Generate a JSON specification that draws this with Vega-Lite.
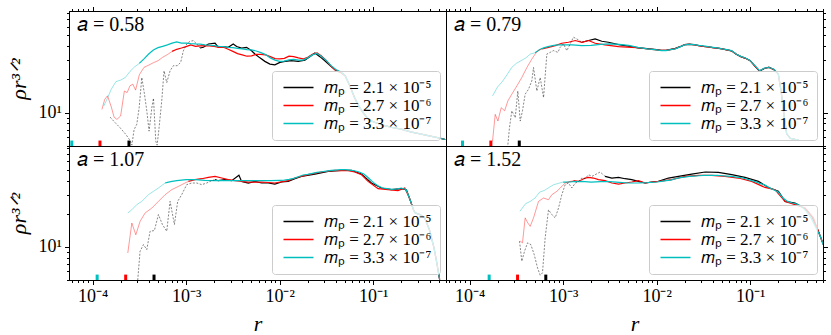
{
  "$schema": "https://vega.github.io/schema/vega-lite/v6.json",
  "padding": {"left": 6, "top": 3, "right": 4, "bottom": 2},
  "columns": 2,
  "spacing": 0,
  "bounds": "flush",
  "align": "each",
  "resolve": {"scale": {"x": "independent", "y": "independent", "color": "independent"}, "legend": {"color": "independent"}},
  "config": {
    "view": {"stroke": "black", "strokeWidth": 1},
    "axis": {"grid": false, "domainColor": "black", "domainWidth": 1, "tickColor": "black", "tickWidth": 1, "labelColor": "black", "labelFont": "Liberation Serif", "labelFontSize": 18, "labelPadding": 3, "labelOverlap": false, "labelFlush": false, "titleFont": "Liberation Serif", "titleFontSize": 22, "titleFontWeight": "normal", "titleFontStyle": "italic", "titleColor": "black"},
    "legend": {"orient": "bottom-right", "offset": 6, "title": null, "symbolType": "M-3,0H3", "symbolSize": 100, "symbolOffset": 10, "symbolStrokeWidth": 1.5, "symbolOpacity": 1, "symbolDash": [1, 0], "labelFont": "Liberation Serif", "labelFontSize": 17, "labelColor": "black", "labelLimit": 0, "labelOffset": 17, "rowPadding": 0, "padding": 8, "fillColor": "rgba(255,255,255,0.8)", "strokeColor": "#cccccc", "cornerRadius": 3, "zindex": 1}
  },
  "datasets": {
    "eps": [
      {"a": "0.58", "m": "3.3e-7", "r": 6.0e-5}, {"a": "0.58", "m": "2.7e-6", "r": 1.2e-4}, {"a": "0.58", "m": "2.1e-5", "r": 2.45e-4},
      {"a": "0.79", "m": "3.3e-7", "r": 8.4e-5}, {"a": "0.79", "m": "2.7e-6", "r": 1.69e-4}, {"a": "0.79", "m": "2.1e-5", "r": 3.4e-4},
      {"a": "1.07", "m": "3.3e-7", "r": 1.12e-4}, {"a": "1.07", "m": "2.7e-6", "r": 2.26e-4}, {"a": "1.07", "m": "2.1e-5", "r": 4.54e-4},
      {"a": "1.52", "m": "3.3e-7", "r": 1.62e-4}, {"a": "1.52", "m": "2.7e-6", "r": 3.26e-4}, {"a": "1.52", "m": "2.1e-5", "r": 6.53e-4}
    ],
    "curves": [
      {"a":"0.58","m":"2.1e-5","s":"lo","r":1.54e-4,"v":9.12},
      {"a":"0.58","m":"2.1e-5","s":"lo","r":1.74e-4,"v":8.14},
      {"a":"0.58","m":"2.1e-5","s":"lo","r":1.97e-4,"v":7.31},
      {"a":"0.58","m":"2.1e-5","s":"lo","r":2.27e-4,"v":6.36},
      {"a":"0.58","m":"2.1e-5","s":"lo","r":2.52e-4,"v":5.6},
      {"a":"0.58","m":"2.1e-5","s":"lo","r":2.63e-4,"v":5.09},
      {"a":"0.58","m":"2.1e-5","s":"lo","r":2.78e-4,"v":7.03},
      {"a":"0.58","m":"2.1e-5","s":"lo","r":2.97e-4,"v":7.86},
      {"a":"0.58","m":"2.1e-5","s":"lo","r":3.15e-4,"v":11.1},
      {"a":"0.58","m":"2.1e-5","s":"lo","r":3.36e-4,"v":20.8},
      {"a":"0.58","m":"2.1e-5","s":"lo","r":3.59e-4,"v":14.7},
      {"a":"0.58","m":"2.1e-5","s":"lo","r":3.8e-4,"v":10.4},
      {"a":"0.58","m":"2.1e-5","s":"lo","r":4.02e-4,"v":6.81},
      {"a":"0.58","m":"2.1e-5","s":"lo","r":4.3e-4,"v":11.1},
      {"a":"0.58","m":"2.1e-5","s":"lo","r":4.48e-4,"v":13.5},
      {"a":"0.58","m":"2.1e-5","s":"lo","r":4.74e-4,"v":5.53},
      {"a":"0.58","m":"2.1e-5","s":"lo","r":4.9e-4,"v":5.09},
      {"a":"0.58","m":"2.1e-5","s":"lo","r":5.14e-4,"v":7.31},
      {"a":"0.58","m":"2.1e-5","s":"lo","r":5.49e-4,"v":12.8},
      {"a":"0.58","m":"2.1e-5","s":"lo","r":5.81e-4,"v":23.9},
      {"a":"0.58","m":"2.1e-5","s":"lo","r":6.21e-4,"v":18.7},
      {"a":"0.58","m":"2.1e-5","s":"lo","r":6.74e-4,"v":23.9},
      {"a":"0.58","m":"2.1e-5","s":"lo","r":7.31e-4,"v":26.6},
      {"a":"0.58","m":"2.1e-5","s":"lo","r":8.07e-4,"v":26.6},
      {"a":"0.58","m":"2.1e-5","s":"lo","r":8.75e-4,"v":28.5},
      {"a":"0.58","m":"2.1e-5","s":"lo","r":9.35e-4,"v":36.3},
      {"a":"0.58","m":"2.1e-5","s":"lo","r":1.015e-3,"v":41.8},
      {"a":"0.58","m":"2.1e-5","s":"lo","r":1.1e-3,"v":44.2},
      {"a":"0.58","m":"2.1e-5","s":"lo","r":1.195e-3,"v":44.8},
      {"a":"0.58","m":"2.1e-5","s":"lo","r":1.3e-3,"v":41.8},
      {"a":"0.58","m":"2.1e-5","s":"lo","r":1.41e-3,"v":38.4},
      {"a":"0.58","m":"2.1e-5","s":"hi","r":1.41e-3,"v":38.4},
      {"a":"0.58","m":"2.1e-5","s":"hi","r":1.53e-3,"v":39.0},
      {"a":"0.58","m":"2.1e-5","s":"hi","r":1.73e-3,"v":41.8},
      {"a":"0.58","m":"2.1e-5","s":"hi","r":2.04e-3,"v":42.5},
      {"a":"0.58","m":"2.1e-5","s":"hi","r":2.21e-3,"v":39.0},
      {"a":"0.58","m":"2.1e-5","s":"hi","r":2.5e-3,"v":39.6},
      {"a":"0.58","m":"2.1e-5","s":"hi","r":2.82e-3,"v":39.0},
      {"a":"0.58","m":"2.1e-5","s":"hi","r":3.19e-3,"v":41.8},
      {"a":"0.58","m":"2.1e-5","s":"hi","r":3.47e-3,"v":39.6},
      {"a":"0.58","m":"2.1e-5","s":"hi","r":3.92e-3,"v":38.4},
      {"a":"0.58","m":"2.1e-5","s":"hi","r":4.43e-3,"v":39.0},
      {"a":"0.58","m":"2.1e-5","s":"hi","r":5.01e-3,"v":36.3},
      {"a":"0.58","m":"2.1e-5","s":"hi","r":5.44e-3,"v":33.9},
      {"a":"0.58","m":"2.1e-5","s":"hi","r":6.15e-3,"v":31.3},
      {"a":"0.58","m":"2.1e-5","s":"hi","r":6.95e-3,"v":29.1},
      {"a":"0.58","m":"2.1e-5","s":"hi","r":7.87e-3,"v":27.5},
      {"a":"0.58","m":"2.1e-5","s":"hi","r":8.89e-3,"v":27.1},
      {"a":"0.58","m":"2.1e-5","s":"hi","r":0.01006,"v":28.5},
      {"a":"0.58","m":"2.1e-5","s":"hi","r":0.0114,"v":29.1},
      {"a":"0.58","m":"2.1e-5","s":"hi","r":0.0134,"v":29.5},
      {"a":"0.58","m":"2.1e-5","s":"hi","r":0.0158,"v":29.1},
      {"a":"0.58","m":"2.1e-5","s":"hi","r":0.0186,"v":29.9},
      {"a":"0.58","m":"2.1e-5","s":"hi","r":0.021,"v":32.1},
      {"a":"0.58","m":"2.1e-5","s":"hi","r":0.0238,"v":34.7},
      {"a":"0.58","m":"2.1e-5","s":"hi","r":0.0269,"v":32.1},
      {"a":"0.58","m":"2.1e-5","s":"hi","r":0.0304,"v":29.5},
      {"a":"0.58","m":"2.1e-5","s":"hi","r":0.0358,"v":26.0},
      {"a":"0.58","m":"2.1e-5","s":"hi","r":0.0405,"v":23.9},
      {"a":"0.58","m":"2.1e-5","s":"hi","r":0.0458,"v":23.1},
      {"a":"0.58","m":"2.1e-5","s":"hi","r":0.05012,"v":21.6},
      {"a":"0.58","m":"2.1e-5","s":"hi","r":0.05623,"v":17.5},
      {"a":"0.58","m":"2.1e-5","s":"hi","r":0.0631,"v":13.7},
      {"a":"0.58","m":"2.1e-5","s":"hi","r":0.07079,"v":11.3},
      {"a":"0.58","m":"2.1e-5","s":"hi","r":0.07943,"v":9.81},
      {"a":"0.58","m":"2.1e-5","s":"hi","r":0.08913,"v":8.7},
      {"a":"0.58","m":"2.1e-5","s":"hi","r":0.1,"v":8.28},
      {"a":"0.58","m":"2.1e-5","s":"hi","r":0.1259,"v":7.73},
      {"a":"0.58","m":"2.1e-5","s":"hi","r":0.1585,"v":7.38},
      {"a":"0.58","m":"2.1e-5","s":"hi","r":0.1995,"v":7.1},
      {"a":"0.58","m":"2.1e-5","s":"hi","r":0.2512,"v":6.72},
      {"a":"0.58","m":"2.1e-5","s":"hi","r":0.3162,"v":6.44},
      {"a":"0.58","m":"2.1e-5","s":"hi","r":0.3981,"v":6.18},
      {"a":"0.58","m":"2.1e-5","s":"hi","r":0.5012,"v":5.92},
      {"a":"0.58","m":"2.1e-5","s":"hi","r":0.5888,"v":5.72},

      {"a":"0.58","m":"2.7e-6","s":"lo","r":1.259e-4,"v":10.7},
      {"a":"0.58","m":"2.7e-6","s":"lo","r":1.349e-4,"v":13.2},
      {"a":"0.58","m":"2.7e-6","s":"lo","r":1.445e-4,"v":14.2},
      {"a":"0.58","m":"2.7e-6","s":"lo","r":1.585e-4,"v":11.3},
      {"a":"0.58","m":"2.7e-6","s":"lo","r":1.698e-4,"v":9.12},
      {"a":"0.58","m":"2.7e-6","s":"lo","r":1.82e-4,"v":8.7},
      {"a":"0.58","m":"2.7e-6","s":"lo","r":1.995e-4,"v":9.33},
      {"a":"0.58","m":"2.7e-6","s":"lo","r":2.188e-4,"v":15.7},
      {"a":"0.58","m":"2.7e-6","s":"lo","r":2.344e-4,"v":15.2},
      {"a":"0.58","m":"2.7e-6","s":"lo","r":2.512e-4,"v":17.5},
      {"a":"0.58","m":"2.7e-6","s":"lo","r":2.692e-4,"v":18.1},
      {"a":"0.58","m":"2.7e-6","s":"lo","r":2.884e-4,"v":16.0},
      {"a":"0.58","m":"2.7e-6","s":"lo","r":3.162e-4,"v":22.0},
      {"a":"0.58","m":"2.7e-6","s":"lo","r":3.548e-4,"v":25.7},
      {"a":"0.58","m":"2.7e-6","s":"lo","r":3.981e-4,"v":26.9},
      {"a":"0.58","m":"2.7e-6","s":"lo","r":4.467e-4,"v":28.3},
      {"a":"0.58","m":"2.7e-6","s":"lo","r":5.012e-4,"v":29.5},
      {"a":"0.58","m":"2.7e-6","s":"lo","r":5.623e-4,"v":31.7},
      {"a":"0.58","m":"2.7e-6","s":"lo","r":6.31e-4,"v":33.5},
      {"a":"0.58","m":"2.7e-6","s":"lo","r":7.079e-4,"v":35.8},
      {"a":"0.58","m":"2.7e-6","s":"hi","r":7.079e-4,"v":35.8},
      {"a":"0.58","m":"2.7e-6","s":"hi","r":7.943e-4,"v":37.4},
      {"a":"0.58","m":"2.7e-6","s":"hi","r":8.913e-4,"v":38.4},
      {"a":"0.58","m":"2.7e-6","s":"hi","r":0.001,"v":39.6},
      {"a":"0.58","m":"2.7e-6","s":"hi","r":1.122e-3,"v":41.0},
      {"a":"0.58","m":"2.7e-6","s":"hi","r":1.259e-3,"v":39.8},
      {"a":"0.58","m":"2.7e-6","s":"hi","r":1.413e-3,"v":40.2},
      {"a":"0.58","m":"2.7e-6","s":"hi","r":1.585e-3,"v":40.4},
      {"a":"0.58","m":"2.7e-6","s":"hi","r":1.778e-3,"v":40.2},
      {"a":"0.58","m":"2.7e-6","s":"hi","r":1.995e-3,"v":39.8},
      {"a":"0.58","m":"2.7e-6","s":"hi","r":2.239e-3,"v":39.0},
      {"a":"0.58","m":"2.7e-6","s":"hi","r":2.512e-3,"v":39.0},
      {"a":"0.58","m":"2.7e-6","s":"hi","r":2.818e-3,"v":37.4},
      {"a":"0.58","m":"2.7e-6","s":"hi","r":3.162e-3,"v":35.8},
      {"a":"0.58","m":"2.7e-6","s":"hi","r":3.548e-3,"v":34.2},
      {"a":"0.58","m":"2.7e-6","s":"hi","r":3.981e-3,"v":33.3},
      {"a":"0.58","m":"2.7e-6","s":"hi","r":4.467e-3,"v":32.4},
      {"a":"0.58","m":"2.7e-6","s":"hi","r":5.012e-3,"v":32.6},
      {"a":"0.58","m":"2.7e-6","s":"hi","r":5.623e-3,"v":33.7},
      {"a":"0.58","m":"2.7e-6","s":"hi","r":6.31e-3,"v":33.7},
      {"a":"0.58","m":"2.7e-6","s":"hi","r":7.079e-3,"v":33.3},
      {"a":"0.58","m":"2.7e-6","s":"hi","r":7.943e-3,"v":32.1},
      {"a":"0.58","m":"2.7e-6","s":"hi","r":8.913e-3,"v":30.8},
      {"a":"0.58","m":"2.7e-6","s":"hi","r":0.01,"v":30.6},
      {"a":"0.58","m":"2.7e-6","s":"hi","r":0.01122,"v":31.0},
      {"a":"0.58","m":"2.7e-6","s":"hi","r":0.01259,"v":32.4},
      {"a":"0.58","m":"2.7e-6","s":"hi","r":0.01413,"v":32.1},
      {"a":"0.58","m":"2.7e-6","s":"hi","r":0.01585,"v":31.3},
      {"a":"0.58","m":"2.7e-6","s":"hi","r":0.01778,"v":30.6},
      {"a":"0.58","m":"2.7e-6","s":"hi","r":0.01995,"v":31.7},
      {"a":"0.58","m":"2.7e-6","s":"hi","r":0.02239,"v":33.7},
      {"a":"0.58","m":"2.7e-6","s":"hi","r":0.02512,"v":34.7},
      {"a":"0.58","m":"2.7e-6","s":"hi","r":0.02818,"v":32.4},
      {"a":"0.58","m":"2.7e-6","s":"hi","r":0.03162,"v":29.5},
      {"a":"0.58","m":"2.7e-6","s":"hi","r":0.03548,"v":26.2},
      {"a":"0.58","m":"2.7e-6","s":"hi","r":0.03981,"v":23.9},
      {"a":"0.58","m":"2.7e-6","s":"hi","r":0.04467,"v":23.1},
      {"a":"0.58","m":"2.7e-6","s":"hi","r":0.05012,"v":21.6},
      {"a":"0.58","m":"2.7e-6","s":"hi","r":0.05623,"v":17.5},
      {"a":"0.58","m":"2.7e-6","s":"hi","r":0.0631,"v":13.7},
      {"a":"0.58","m":"2.7e-6","s":"hi","r":0.07079,"v":11.3},
      {"a":"0.58","m":"2.7e-6","s":"hi","r":0.07943,"v":9.81},
      {"a":"0.58","m":"2.7e-6","s":"hi","r":0.08913,"v":8.7},
      {"a":"0.58","m":"2.7e-6","s":"hi","r":0.1,"v":8.28},
      {"a":"0.58","m":"2.7e-6","s":"hi","r":0.1259,"v":7.73},
      {"a":"0.58","m":"2.7e-6","s":"hi","r":0.1585,"v":7.38},
      {"a":"0.58","m":"2.7e-6","s":"hi","r":0.1995,"v":7.1},
      {"a":"0.58","m":"2.7e-6","s":"hi","r":0.2512,"v":6.72},
      {"a":"0.58","m":"2.7e-6","s":"hi","r":0.3162,"v":6.44},
      {"a":"0.58","m":"2.7e-6","s":"hi","r":0.3981,"v":6.18},
      {"a":"0.58","m":"2.7e-6","s":"hi","r":0.5012,"v":5.92},
      {"a":"0.58","m":"2.7e-6","s":"hi","r":0.5888,"v":5.72},

      {"a":"0.58","m":"3.3e-7","s":"lo","r":1.318e-4,"v":11.5},
      {"a":"0.58","m":"3.3e-7","s":"lo","r":1.413e-4,"v":13.0},
      {"a":"0.58","m":"3.3e-7","s":"lo","r":1.585e-4,"v":16.3},
      {"a":"0.58","m":"3.3e-7","s":"lo","r":1.778e-4,"v":19.1},
      {"a":"0.58","m":"3.3e-7","s":"lo","r":1.995e-4,"v":19.7},
      {"a":"0.58","m":"3.3e-7","s":"lo","r":2.239e-4,"v":20.8},
      {"a":"0.58","m":"3.3e-7","s":"lo","r":2.512e-4,"v":23.6},
      {"a":"0.58","m":"3.3e-7","s":"lo","r":2.818e-4,"v":26.0},
      {"a":"0.58","m":"3.3e-7","s":"lo","r":3.162e-4,"v":27.9},
      {"a":"0.58","m":"3.3e-7","s":"hi","r":3.162e-4,"v":27.9},
      {"a":"0.58","m":"3.3e-7","s":"hi","r":3.548e-4,"v":30.6},
      {"a":"0.58","m":"3.3e-7","s":"hi","r":3.981e-4,"v":33.9},
      {"a":"0.58","m":"3.3e-7","s":"hi","r":4.467e-4,"v":36.9},
      {"a":"0.58","m":"3.3e-7","s":"hi","r":5.012e-4,"v":38.7},
      {"a":"0.58","m":"3.3e-7","s":"hi","r":5.623e-4,"v":39.8},
      {"a":"0.58","m":"3.3e-7","s":"hi","r":6.31e-4,"v":41.0},
      {"a":"0.58","m":"3.3e-7","s":"hi","r":7.079e-4,"v":42.5},
      {"a":"0.58","m":"3.3e-7","s":"hi","r":7.943e-4,"v":43.6},
      {"a":"0.58","m":"3.3e-7","s":"hi","r":8.913e-4,"v":42.5},
      {"a":"0.58","m":"3.3e-7","s":"hi","r":0.001,"v":42.5},
      {"a":"0.58","m":"3.3e-7","s":"hi","r":1.122e-3,"v":42.1},
      {"a":"0.58","m":"3.3e-7","s":"hi","r":1.259e-3,"v":41.8},
      {"a":"0.58","m":"3.3e-7","s":"hi","r":1.413e-3,"v":41.6},
      {"a":"0.58","m":"3.3e-7","s":"hi","r":1.585e-3,"v":41.0},
      {"a":"0.58","m":"3.3e-7","s":"hi","r":1.778e-3,"v":40.7},
      {"a":"0.58","m":"3.3e-7","s":"hi","r":1.995e-3,"v":40.4},
      {"a":"0.58","m":"3.3e-7","s":"hi","r":2.239e-3,"v":39.8},
      {"a":"0.58","m":"3.3e-7","s":"hi","r":2.512e-3,"v":39.6},
      {"a":"0.58","m":"3.3e-7","s":"hi","r":2.818e-3,"v":39.0},
      {"a":"0.58","m":"3.3e-7","s":"hi","r":3.162e-3,"v":38.7},
      {"a":"0.58","m":"3.3e-7","s":"hi","r":3.548e-3,"v":38.1},
      {"a":"0.58","m":"3.3e-7","s":"hi","r":3.981e-3,"v":37.7},
      {"a":"0.58","m":"3.3e-7","s":"hi","r":4.467e-3,"v":37.1},
      {"a":"0.58","m":"3.3e-7","s":"hi","r":5.012e-3,"v":36.9},
      {"a":"0.58","m":"3.3e-7","s":"hi","r":5.623e-3,"v":36.1},
      {"a":"0.58","m":"3.3e-7","s":"hi","r":6.31e-3,"v":34.9},
      {"a":"0.58","m":"3.3e-7","s":"hi","r":7.079e-3,"v":33.5},
      {"a":"0.58","m":"3.3e-7","s":"hi","r":7.943e-3,"v":31.3},
      {"a":"0.58","m":"3.3e-7","s":"hi","r":8.913e-3,"v":29.9},
      {"a":"0.58","m":"3.3e-7","s":"hi","r":0.01,"v":29.1},
      {"a":"0.58","m":"3.3e-7","s":"hi","r":0.01122,"v":29.3},
      {"a":"0.58","m":"3.3e-7","s":"hi","r":0.01259,"v":30.1},
      {"a":"0.58","m":"3.3e-7","s":"hi","r":0.01413,"v":30.3},
      {"a":"0.58","m":"3.3e-7","s":"hi","r":0.01585,"v":29.9},
      {"a":"0.58","m":"3.3e-7","s":"hi","r":0.01778,"v":29.9},
      {"a":"0.58","m":"3.3e-7","s":"hi","r":0.01995,"v":31.3},
      {"a":"0.58","m":"3.3e-7","s":"hi","r":0.02239,"v":33.3},
      {"a":"0.58","m":"3.3e-7","s":"hi","r":0.02512,"v":34.4},
      {"a":"0.58","m":"3.3e-7","s":"hi","r":0.02818,"v":32.1},
      {"a":"0.58","m":"3.3e-7","s":"hi","r":0.03162,"v":29.5},
      {"a":"0.58","m":"3.3e-7","s":"hi","r":0.03548,"v":26.6},
      {"a":"0.58","m":"3.3e-7","s":"hi","r":0.03981,"v":24.6},
      {"a":"0.58","m":"3.3e-7","s":"hi","r":0.04467,"v":23.5},
      {"a":"0.58","m":"3.3e-7","s":"hi","r":0.05012,"v":21.6},
      {"a":"0.58","m":"3.3e-7","s":"hi","r":0.05623,"v":17.5},
      {"a":"0.58","m":"3.3e-7","s":"hi","r":0.0631,"v":13.7},
      {"a":"0.58","m":"3.3e-7","s":"hi","r":0.07079,"v":11.3},
      {"a":"0.58","m":"3.3e-7","s":"hi","r":0.07943,"v":9.81},
      {"a":"0.58","m":"3.3e-7","s":"hi","r":0.08913,"v":8.7},
      {"a":"0.58","m":"3.3e-7","s":"hi","r":0.1,"v":8.28},
      {"a":"0.58","m":"3.3e-7","s":"hi","r":0.1259,"v":7.73},
      {"a":"0.58","m":"3.3e-7","s":"hi","r":0.1585,"v":7.38},
      {"a":"0.58","m":"3.3e-7","s":"hi","r":0.1995,"v":7.1},
      {"a":"0.58","m":"3.3e-7","s":"hi","r":0.2512,"v":6.72},
      {"a":"0.58","m":"3.3e-7","s":"hi","r":0.3162,"v":6.44},
      {"a":"0.58","m":"3.3e-7","s":"hi","r":0.3981,"v":6.18},
      {"a":"0.58","m":"3.3e-7","s":"hi","r":0.5012,"v":5.92},
      {"a":"0.58","m":"3.3e-7","s":"hi","r":0.5888,"v":5.72},

      {"a":"0.79","m":"2.1e-5","s":"lo","r":2.57e-4,"v":5.15},
      {"a":"0.79","m":"2.1e-5","s":"lo","r":2.67e-4,"v":7.31},
      {"a":"0.79","m":"2.1e-5","s":"lo","r":2.83e-4,"v":10.4},
      {"a":"0.79","m":"2.1e-5","s":"lo","r":3.08e-4,"v":9.01},
      {"a":"0.79","m":"2.1e-5","s":"lo","r":3.28e-4,"v":15.7},
      {"a":"0.79","m":"2.1e-5","s":"lo","r":3.48e-4,"v":8.4},
      {"a":"0.79","m":"2.1e-5","s":"lo","r":3.68e-4,"v":10.4},
      {"a":"0.79","m":"2.1e-5","s":"lo","r":3.93e-4,"v":14.7},
      {"a":"0.79","m":"2.1e-5","s":"lo","r":4.27e-4,"v":16.3},
      {"a":"0.79","m":"2.1e-5","s":"lo","r":4.63e-4,"v":19.4},
      {"a":"0.79","m":"2.1e-5","s":"lo","r":4.83e-4,"v":25.6},
      {"a":"0.79","m":"2.1e-5","s":"lo","r":5.24e-4,"v":15.7},
      {"a":"0.79","m":"2.1e-5","s":"lo","r":5.69e-4,"v":20.8},
      {"a":"0.79","m":"2.1e-5","s":"lo","r":6.18e-4,"v":13.7},
      {"a":"0.79","m":"2.1e-5","s":"lo","r":6.7e-4,"v":33.9},
      {"a":"0.79","m":"2.1e-5","s":"lo","r":7.28e-4,"v":35.1},
      {"a":"0.79","m":"2.1e-5","s":"lo","r":7.89e-4,"v":36.4},
      {"a":"0.79","m":"2.1e-5","s":"lo","r":8.79e-4,"v":35.1},
      {"a":"0.79","m":"2.1e-5","s":"lo","r":9.31e-4,"v":39.0},
      {"a":"0.79","m":"2.1e-5","s":"lo","r":1.01e-3,"v":41.8},
      {"a":"0.79","m":"2.1e-5","s":"lo","r":1.096e-3,"v":36.4},
      {"a":"0.79","m":"2.1e-5","s":"lo","r":1.19e-3,"v":41.8},
      {"a":"0.79","m":"2.1e-5","s":"lo","r":1.29e-3,"v":48.1},
      {"a":"0.79","m":"2.1e-5","s":"lo","r":1.46e-3,"v":45.5},
      {"a":"0.79","m":"2.1e-5","s":"lo","r":1.585e-3,"v":43.3},
      {"a":"0.79","m":"2.1e-5","s":"hi","r":1.585e-3,"v":43.3},
      {"a":"0.79","m":"2.1e-5","s":"hi","r":1.87e-3,"v":44.9},
      {"a":"0.79","m":"2.1e-5","s":"hi","r":2.2e-3,"v":46.5},
      {"a":"0.79","m":"2.1e-5","s":"hi","r":2.59e-3,"v":44.2},
      {"a":"0.79","m":"2.1e-5","s":"hi","r":3.05e-3,"v":43.3},
      {"a":"0.79","m":"2.1e-5","s":"hi","r":3.91e-3,"v":41.2},
      {"a":"0.79","m":"2.1e-5","s":"hi","r":5.42e-3,"v":39.5},
      {"a":"0.79","m":"2.1e-5","s":"hi","r":6.31e-3,"v":38.6},
      {"a":"0.79","m":"2.1e-5","s":"hi","r":7.943e-3,"v":37.9},
      {"a":"0.79","m":"2.1e-5","s":"hi","r":0.01,"v":37.2},
      {"a":"0.79","m":"2.1e-5","s":"hi","r":0.01122,"v":36.6},
      {"a":"0.79","m":"2.1e-5","s":"hi","r":0.01259,"v":36.6},
      {"a":"0.79","m":"2.1e-5","s":"hi","r":0.01413,"v":37.4},
      {"a":"0.79","m":"2.1e-5","s":"hi","r":0.01585,"v":38.1},
      {"a":"0.79","m":"2.1e-5","s":"hi","r":0.01778,"v":39.5},
      {"a":"0.79","m":"2.1e-5","s":"hi","r":0.01995,"v":41.2},
      {"a":"0.79","m":"2.1e-5","s":"hi","r":0.02239,"v":41.6},
      {"a":"0.79","m":"2.1e-5","s":"hi","r":0.02512,"v":41.2},
      {"a":"0.79","m":"2.1e-5","s":"hi","r":0.02818,"v":40.4},
      {"a":"0.79","m":"2.1e-5","s":"hi","r":0.03162,"v":39.8},
      {"a":"0.79","m":"2.1e-5","s":"hi","r":0.03548,"v":39.3},
      {"a":"0.79","m":"2.1e-5","s":"hi","r":0.03981,"v":38.8},
      {"a":"0.79","m":"2.1e-5","s":"hi","r":0.04467,"v":38.3},
      {"a":"0.79","m":"2.1e-5","s":"hi","r":0.05012,"v":37.7},
      {"a":"0.79","m":"2.1e-5","s":"hi","r":0.05623,"v":37.0},
      {"a":"0.79","m":"2.1e-5","s":"hi","r":0.0631,"v":36.2},
      {"a":"0.79","m":"2.1e-5","s":"hi","r":0.07079,"v":33.7},
      {"a":"0.79","m":"2.1e-5","s":"hi","r":0.07943,"v":32.1},
      {"a":"0.79","m":"2.1e-5","s":"hi","r":0.08913,"v":31.0},
      {"a":"0.79","m":"2.1e-5","s":"hi","r":0.1,"v":29.5},
      {"a":"0.79","m":"2.1e-5","s":"hi","r":0.1122,"v":26.4},
      {"a":"0.79","m":"2.1e-5","s":"hi","r":0.1259,"v":23.7},
      {"a":"0.79","m":"2.1e-5","s":"hi","r":0.1413,"v":25.1},
      {"a":"0.79","m":"2.1e-5","s":"hi","r":0.1585,"v":25.8},
      {"a":"0.79","m":"2.1e-5","s":"hi","r":0.1778,"v":24.6},
      {"a":"0.79","m":"2.1e-5","s":"hi","r":0.1995,"v":22.4},
      {"a":"0.79","m":"2.1e-5","s":"hi","r":0.2138,"v":15.7},
      {"a":"0.79","m":"2.1e-5","s":"hi","r":0.2291,"v":9.66},
      {"a":"0.79","m":"2.1e-5","s":"hi","r":0.2455,"v":6.44},
      {"a":"0.79","m":"2.1e-5","s":"hi","r":0.2692,"v":5.85},
      {"a":"0.79","m":"2.1e-5","s":"hi","r":0.302,"v":5.73},
      {"a":"0.79","m":"2.1e-5","s":"hi","r":0.3311,"v":5.69},

      {"a":"0.79","m":"2.7e-6","s":"lo","r":1.76e-4,"v":5.52},
      {"a":"0.79","m":"2.7e-6","s":"lo","r":1.88e-4,"v":9.66},
      {"a":"0.79","m":"2.7e-6","s":"lo","r":2.01e-4,"v":8.4},
      {"a":"0.79","m":"2.7e-6","s":"lo","r":2.18e-4,"v":11.1},
      {"a":"0.79","m":"2.7e-6","s":"lo","r":2.37e-4,"v":10.4},
      {"a":"0.79","m":"2.7e-6","s":"lo","r":2.57e-4,"v":12.8},
      {"a":"0.79","m":"2.7e-6","s":"lo","r":2.83e-4,"v":14.7},
      {"a":"0.79","m":"2.7e-6","s":"lo","r":3.21e-4,"v":17.5},
      {"a":"0.79","m":"2.7e-6","s":"lo","r":3.62e-4,"v":20.8},
      {"a":"0.79","m":"2.7e-6","s":"lo","r":4.1e-4,"v":25.6},
      {"a":"0.79","m":"2.7e-6","s":"lo","r":4.63e-4,"v":30.5},
      {"a":"0.79","m":"2.7e-6","s":"lo","r":5.03e-4,"v":33.9},
      {"a":"0.79","m":"2.7e-6","s":"lo","r":5.46e-4,"v":36.4},
      {"a":"0.79","m":"2.7e-6","s":"lo","r":5.93e-4,"v":37.7},
      {"a":"0.79","m":"2.7e-6","s":"hi","r":5.93e-4,"v":37.7},
      {"a":"0.79","m":"2.7e-6","s":"hi","r":6.98e-4,"v":39.0},
      {"a":"0.79","m":"2.7e-6","s":"hi","r":8.23e-4,"v":40.4},
      {"a":"0.79","m":"2.7e-6","s":"hi","r":9.69e-4,"v":42.4},
      {"a":"0.79","m":"2.7e-6","s":"hi","r":1.14e-3,"v":43.3},
      {"a":"0.79","m":"2.7e-6","s":"hi","r":1.35e-3,"v":44.9},
      {"a":"0.79","m":"2.7e-6","s":"hi","r":1.585e-3,"v":43.3},
      {"a":"0.79","m":"2.7e-6","s":"hi","r":1.87e-3,"v":44.9},
      {"a":"0.79","m":"2.7e-6","s":"hi","r":2.2e-3,"v":42.4},
      {"a":"0.79","m":"2.7e-6","s":"hi","r":2.81e-3,"v":41.0},
      {"a":"0.79","m":"2.7e-6","s":"hi","r":3.91e-3,"v":39.5},
      {"a":"0.79","m":"2.7e-6","s":"hi","r":5.42e-3,"v":39.0},
      {"a":"0.79","m":"2.7e-6","s":"hi","r":6.31e-3,"v":38.8},
      {"a":"0.79","m":"2.7e-6","s":"hi","r":7.943e-3,"v":37.7},
      {"a":"0.79","m":"2.7e-6","s":"hi","r":0.01,"v":36.9},
      {"a":"0.79","m":"2.7e-6","s":"hi","r":0.01122,"v":36.6},
      {"a":"0.79","m":"2.7e-6","s":"hi","r":0.01259,"v":36.6},
      {"a":"0.79","m":"2.7e-6","s":"hi","r":0.01413,"v":37.2},
      {"a":"0.79","m":"2.7e-6","s":"hi","r":0.01585,"v":37.9},
      {"a":"0.79","m":"2.7e-6","s":"hi","r":0.01778,"v":39.5},
      {"a":"0.79","m":"2.7e-6","s":"hi","r":0.01995,"v":41.2},
      {"a":"0.79","m":"2.7e-6","s":"hi","r":0.02239,"v":41.5},
      {"a":"0.79","m":"2.7e-6","s":"hi","r":0.02512,"v":41.0},
      {"a":"0.79","m":"2.7e-6","s":"hi","r":0.02818,"v":40.4},
      {"a":"0.79","m":"2.7e-6","s":"hi","r":0.03162,"v":39.8},
      {"a":"0.79","m":"2.7e-6","s":"hi","r":0.03548,"v":39.3},
      {"a":"0.79","m":"2.7e-6","s":"hi","r":0.03981,"v":38.8},
      {"a":"0.79","m":"2.7e-6","s":"hi","r":0.04467,"v":38.3},
      {"a":"0.79","m":"2.7e-6","s":"hi","r":0.05012,"v":37.7},
      {"a":"0.79","m":"2.7e-6","s":"hi","r":0.05623,"v":37.0},
      {"a":"0.79","m":"2.7e-6","s":"hi","r":0.0631,"v":36.2},
      {"a":"0.79","m":"2.7e-6","s":"hi","r":0.07079,"v":33.9},
      {"a":"0.79","m":"2.7e-6","s":"hi","r":0.07943,"v":32.1},
      {"a":"0.79","m":"2.7e-6","s":"hi","r":0.08913,"v":31.0},
      {"a":"0.79","m":"2.7e-6","s":"hi","r":0.1,"v":29.5},
      {"a":"0.79","m":"2.7e-6","s":"hi","r":0.1122,"v":26.4},
      {"a":"0.79","m":"2.7e-6","s":"hi","r":0.1259,"v":23.9},
      {"a":"0.79","m":"2.7e-6","s":"hi","r":0.1413,"v":25.1},
      {"a":"0.79","m":"2.7e-6","s":"hi","r":0.1585,"v":25.6},
      {"a":"0.79","m":"2.7e-6","s":"hi","r":0.1778,"v":24.6},
      {"a":"0.79","m":"2.7e-6","s":"hi","r":0.1995,"v":22.4},
      {"a":"0.79","m":"2.7e-6","s":"hi","r":0.2138,"v":15.7},
      {"a":"0.79","m":"2.7e-6","s":"hi","r":0.2291,"v":9.66},
      {"a":"0.79","m":"2.7e-6","s":"hi","r":0.2455,"v":6.44},
      {"a":"0.79","m":"2.7e-6","s":"hi","r":0.2692,"v":5.85},
      {"a":"0.79","m":"2.7e-6","s":"hi","r":0.302,"v":5.73},
      {"a":"0.79","m":"2.7e-6","s":"hi","r":0.3311,"v":5.69},

      {"a":"0.79","m":"3.3e-7","s":"lo","r":1.76e-4,"v":14.2},
      {"a":"0.79","m":"3.3e-7","s":"lo","r":1.995e-4,"v":17.1},
      {"a":"0.79","m":"3.3e-7","s":"lo","r":2.239e-4,"v":19.1},
      {"a":"0.79","m":"3.3e-7","s":"lo","r":2.512e-4,"v":22.0},
      {"a":"0.79","m":"3.3e-7","s":"lo","r":2.818e-4,"v":25.6},
      {"a":"0.79","m":"3.3e-7","s":"lo","r":3.162e-4,"v":27.9},
      {"a":"0.79","m":"3.3e-7","s":"lo","r":3.548e-4,"v":29.5},
      {"a":"0.79","m":"3.3e-7","s":"lo","r":3.981e-4,"v":31.2},
      {"a":"0.79","m":"3.3e-7","s":"lo","r":4.467e-4,"v":33.9},
      {"a":"0.79","m":"3.3e-7","s":"lo","r":5.012e-4,"v":34.8},
      {"a":"0.79","m":"3.3e-7","s":"hi","r":5.012e-4,"v":34.8},
      {"a":"0.79","m":"3.3e-7","s":"hi","r":5.623e-4,"v":37.2},
      {"a":"0.79","m":"3.3e-7","s":"hi","r":6.31e-4,"v":38.7},
      {"a":"0.79","m":"3.3e-7","s":"hi","r":7.079e-4,"v":39.8},
      {"a":"0.79","m":"3.3e-7","s":"hi","r":7.943e-4,"v":40.6},
      {"a":"0.79","m":"3.3e-7","s":"hi","r":8.913e-4,"v":41.0},
      {"a":"0.79","m":"3.3e-7","s":"hi","r":0.001,"v":41.0},
      {"a":"0.79","m":"3.3e-7","s":"hi","r":1.259e-3,"v":41.0},
      {"a":"0.79","m":"3.3e-7","s":"hi","r":1.585e-3,"v":40.4},
      {"a":"0.79","m":"3.3e-7","s":"hi","r":1.995e-3,"v":40.6},
      {"a":"0.79","m":"3.3e-7","s":"hi","r":2.512e-3,"v":41.5},
      {"a":"0.79","m":"3.3e-7","s":"hi","r":3.162e-3,"v":41.8},
      {"a":"0.79","m":"3.3e-7","s":"hi","r":3.981e-3,"v":41.5},
      {"a":"0.79","m":"3.3e-7","s":"hi","r":5.012e-3,"v":40.6},
      {"a":"0.79","m":"3.3e-7","s":"hi","r":6.31e-3,"v":39.0},
      {"a":"0.79","m":"3.3e-7","s":"hi","r":7.943e-3,"v":37.7},
      {"a":"0.79","m":"3.3e-7","s":"hi","r":0.01,"v":36.9},
      {"a":"0.79","m":"3.3e-7","s":"hi","r":0.01122,"v":36.4},
      {"a":"0.79","m":"3.3e-7","s":"hi","r":0.01259,"v":36.4},
      {"a":"0.79","m":"3.3e-7","s":"hi","r":0.01413,"v":37.2},
      {"a":"0.79","m":"3.3e-7","s":"hi","r":0.01585,"v":37.7},
      {"a":"0.79","m":"3.3e-7","s":"hi","r":0.01778,"v":39.3},
      {"a":"0.79","m":"3.3e-7","s":"hi","r":0.01995,"v":41.0},
      {"a":"0.79","m":"3.3e-7","s":"hi","r":0.02239,"v":41.5},
      {"a":"0.79","m":"3.3e-7","s":"hi","r":0.02512,"v":41.2},
      {"a":"0.79","m":"3.3e-7","s":"hi","r":0.02818,"v":40.6},
      {"a":"0.79","m":"3.3e-7","s":"hi","r":0.03162,"v":40.1},
      {"a":"0.79","m":"3.3e-7","s":"hi","r":0.03548,"v":39.5},
      {"a":"0.79","m":"3.3e-7","s":"hi","r":0.03981,"v":39.0},
      {"a":"0.79","m":"3.3e-7","s":"hi","r":0.04467,"v":38.5},
      {"a":"0.79","m":"3.3e-7","s":"hi","r":0.05012,"v":37.7},
      {"a":"0.79","m":"3.3e-7","s":"hi","r":0.05623,"v":37.2},
      {"a":"0.79","m":"3.3e-7","s":"hi","r":0.0631,"v":36.4},
      {"a":"0.79","m":"3.3e-7","s":"hi","r":0.07079,"v":33.9},
      {"a":"0.79","m":"3.3e-7","s":"hi","r":0.07943,"v":32.3},
      {"a":"0.79","m":"3.3e-7","s":"hi","r":0.08913,"v":31.2},
      {"a":"0.79","m":"3.3e-7","s":"hi","r":0.1,"v":29.5},
      {"a":"0.79","m":"3.3e-7","s":"hi","r":0.1122,"v":26.6},
      {"a":"0.79","m":"3.3e-7","s":"hi","r":0.1259,"v":23.9},
      {"a":"0.79","m":"3.3e-7","s":"hi","r":0.1413,"v":25.3},
      {"a":"0.79","m":"3.3e-7","s":"hi","r":0.1585,"v":25.6},
      {"a":"0.79","m":"3.3e-7","s":"hi","r":0.1778,"v":24.8},
      {"a":"0.79","m":"3.3e-7","s":"hi","r":0.1995,"v":22.6},
      {"a":"0.79","m":"3.3e-7","s":"hi","r":0.2138,"v":15.7},
      {"a":"0.79","m":"3.3e-7","s":"hi","r":0.2291,"v":9.66},
      {"a":"0.79","m":"3.3e-7","s":"hi","r":0.2455,"v":6.44},
      {"a":"0.79","m":"3.3e-7","s":"hi","r":0.2692,"v":5.85},
      {"a":"0.79","m":"3.3e-7","s":"hi","r":0.302,"v":5.73},
      {"a":"0.79","m":"3.3e-7","s":"hi","r":0.3311,"v":5.69},

      {"a":"1.07","m":"2.1e-5","s":"lo","r":3.04e-4,"v":4.98},
      {"a":"1.07","m":"2.1e-5","s":"lo","r":3.22e-4,"v":9.14},
      {"a":"1.07","m":"2.1e-5","s":"lo","r":3.5e-4,"v":10.5},
      {"a":"1.07","m":"2.1e-5","s":"lo","r":3.8e-4,"v":9.46},
      {"a":"1.07","m":"2.1e-5","s":"lo","r":4.12e-4,"v":13.9},
      {"a":"1.07","m":"2.1e-5","s":"lo","r":4.58e-4,"v":14.1},
      {"a":"1.07","m":"2.1e-5","s":"lo","r":5.06e-4,"v":19.7},
      {"a":"1.07","m":"2.1e-5","s":"lo","r":5.58e-4,"v":16.0},
      {"a":"1.07","m":"2.1e-5","s":"lo","r":6.21e-4,"v":13.9},
      {"a":"1.07","m":"2.1e-5","s":"lo","r":6.74e-4,"v":26.0},
      {"a":"1.07","m":"2.1e-5","s":"lo","r":7.5e-4,"v":16.0},
      {"a":"1.07","m":"2.1e-5","s":"lo","r":8.13e-4,"v":26.0},
      {"a":"1.07","m":"2.1e-5","s":"lo","r":8.97e-4,"v":29.9},
      {"a":"1.07","m":"2.1e-5","s":"lo","r":1.015e-3,"v":36.9},
      {"a":"1.07","m":"2.1e-5","s":"lo","r":1.148e-3,"v":38.2},
      {"a":"1.07","m":"2.1e-5","s":"lo","r":1.3e-3,"v":38.2},
      {"a":"1.07","m":"2.1e-5","s":"lo","r":1.47e-3,"v":36.9},
      {"a":"1.07","m":"2.1e-5","s":"lo","r":1.66e-3,"v":38.2},
      {"a":"1.07","m":"2.1e-5","s":"lo","r":1.875e-3,"v":40.1},
      {"a":"1.07","m":"2.1e-5","s":"lo","r":2.04e-3,"v":41.0},
      {"a":"1.07","m":"2.1e-5","s":"hi","r":2.04e-3,"v":41.0},
      {"a":"1.07","m":"2.1e-5","s":"hi","r":2.21e-3,"v":40.1},
      {"a":"1.07","m":"2.1e-5","s":"hi","r":2.6e-3,"v":41.0},
      {"a":"1.07","m":"2.1e-5","s":"hi","r":3.07e-3,"v":40.1},
      {"a":"1.07","m":"2.1e-5","s":"hi","r":3.67e-3,"v":44.9},
      {"a":"1.07","m":"2.1e-5","s":"hi","r":3.92e-3,"v":39.5},
      {"a":"1.07","m":"2.1e-5","s":"hi","r":4.62e-3,"v":38.2},
      {"a":"1.07","m":"2.1e-5","s":"hi","r":5.44e-3,"v":39.5},
      {"a":"1.07","m":"2.1e-5","s":"hi","r":6.41e-3,"v":38.2},
      {"a":"1.07","m":"2.1e-5","s":"hi","r":7.55e-3,"v":38.2},
      {"a":"1.07","m":"2.1e-5","s":"hi","r":8.89e-3,"v":37.4},
      {"a":"1.07","m":"2.1e-5","s":"hi","r":0.01047,"v":39.0},
      {"a":"1.07","m":"2.1e-5","s":"hi","r":0.01234,"v":39.5},
      {"a":"1.07","m":"2.1e-5","s":"hi","r":0.01455,"v":41.8},
      {"a":"1.07","m":"2.1e-5","s":"hi","r":0.0171,"v":43.9},
      {"a":"1.07","m":"2.1e-5","s":"hi","r":0.0238,"v":46.1},
      {"a":"1.07","m":"2.1e-5","s":"hi","r":0.033,"v":48.7},
      {"a":"1.07","m":"2.1e-5","s":"hi","r":0.0458,"v":49.8},
      {"a":"1.07","m":"2.1e-5","s":"hi","r":0.0586,"v":49.8},
      {"a":"1.07","m":"2.1e-5","s":"hi","r":0.0748,"v":46.1},
      {"a":"1.07","m":"2.1e-5","s":"hi","r":0.0957,"v":38.2},
      {"a":"1.07","m":"2.1e-5","s":"hi","r":0.1225,"v":34.4},
      {"a":"1.07","m":"2.1e-5","s":"hi","r":0.156,"v":33.2},
      {"a":"1.07","m":"2.1e-5","s":"hi","r":0.2,"v":33.9},
      {"a":"1.07","m":"2.1e-5","s":"hi","r":0.2265,"v":33.2},
      {"a":"1.07","m":"2.1e-5","s":"hi","r":0.2399,"v":28.9},
      {"a":"1.07","m":"2.1e-5","s":"hi","r":0.2512,"v":26.0},
      {"a":"1.07","m":"2.1e-5","s":"hi","r":0.2692,"v":21.8},
      {"a":"1.07","m":"2.1e-5","s":"hi","r":0.2818,"v":20.4},
      {"a":"1.07","m":"2.1e-5","s":"hi","r":0.3162,"v":19.7},
      {"a":"1.07","m":"2.1e-5","s":"hi","r":0.3548,"v":18.4},
      {"a":"1.07","m":"2.1e-5","s":"hi","r":0.3981,"v":14.4},
      {"a":"1.07","m":"2.1e-5","s":"hi","r":0.4467,"v":9.79},
      {"a":"1.07","m":"2.1e-5","s":"hi","r":0.4786,"v":7.16},
      {"a":"1.07","m":"2.1e-5","s":"hi","r":0.5129,"v":5.05},

      {"a":"1.07","m":"2.7e-6","s":"lo","r":2.38e-4,"v":8.8},
      {"a":"1.07","m":"2.7e-6","s":"lo","r":2.63e-4,"v":16.5},
      {"a":"1.07","m":"2.7e-6","s":"lo","r":2.9e-4,"v":12.9},
      {"a":"1.07","m":"2.7e-6","s":"lo","r":3.22e-4,"v":17.1},
      {"a":"1.07","m":"2.7e-6","s":"lo","r":3.65e-4,"v":20.4},
      {"a":"1.07","m":"2.7e-6","s":"lo","r":4.3e-4,"v":22.6},
      {"a":"1.07","m":"2.7e-6","s":"lo","r":5.06e-4,"v":26.0},
      {"a":"1.07","m":"2.7e-6","s":"lo","r":5.96e-4,"v":29.9},
      {"a":"1.07","m":"2.7e-6","s":"lo","r":7.02e-4,"v":33.2},
      {"a":"1.07","m":"2.7e-6","s":"lo","r":8.27e-4,"v":35.6},
      {"a":"1.07","m":"2.7e-6","s":"lo","r":9.74e-4,"v":38.2},
      {"a":"1.07","m":"2.7e-6","s":"lo","r":1.057e-3,"v":39.5},
      {"a":"1.07","m":"2.7e-6","s":"hi","r":1.057e-3,"v":39.5},
      {"a":"1.07","m":"2.7e-6","s":"hi","r":1.245e-3,"v":41.0},
      {"a":"1.07","m":"2.7e-6","s":"hi","r":1.47e-3,"v":41.8},
      {"a":"1.07","m":"2.7e-6","s":"hi","r":1.73e-3,"v":43.0},
      {"a":"1.07","m":"2.7e-6","s":"hi","r":2.04e-3,"v":43.9},
      {"a":"1.07","m":"2.7e-6","s":"hi","r":2.4e-3,"v":42.4},
      {"a":"1.07","m":"2.7e-6","s":"hi","r":2.82e-3,"v":41.0},
      {"a":"1.07","m":"2.7e-6","s":"hi","r":3.33e-3,"v":40.1},
      {"a":"1.07","m":"2.7e-6","s":"hi","r":4.62e-3,"v":39.0},
      {"a":"1.07","m":"2.7e-6","s":"hi","r":6.41e-3,"v":39.0},
      {"a":"1.07","m":"2.7e-6","s":"hi","r":8.89e-3,"v":38.2},
      {"a":"1.07","m":"2.7e-6","s":"hi","r":0.01234,"v":40.1},
      {"a":"1.07","m":"2.7e-6","s":"hi","r":0.01455,"v":42.4},
      {"a":"1.07","m":"2.7e-6","s":"hi","r":0.0202,"v":45.5},
      {"a":"1.07","m":"2.7e-6","s":"hi","r":0.028,"v":48.1},
      {"a":"1.07","m":"2.7e-6","s":"hi","r":0.0389,"v":49.8},
      {"a":"1.07","m":"2.7e-6","s":"hi","r":0.0539,"v":49.4},
      {"a":"1.07","m":"2.7e-6","s":"hi","r":0.0635,"v":48.1},
      {"a":"1.07","m":"2.7e-6","s":"hi","r":0.0748,"v":45.5},
      {"a":"1.07","m":"2.7e-6","s":"hi","r":0.0881,"v":39.5},
      {"a":"1.07","m":"2.7e-6","s":"hi","r":0.1127,"v":33.9},
      {"a":"1.07","m":"2.7e-6","s":"hi","r":0.144,"v":33.2},
      {"a":"1.07","m":"2.7e-6","s":"hi","r":0.184,"v":32.5},
      {"a":"1.07","m":"2.7e-6","s":"hi","r":0.217,"v":34.4},
      {"a":"1.07","m":"2.7e-6","s":"hi","r":0.2399,"v":28.9},
      {"a":"1.07","m":"2.7e-6","s":"hi","r":0.2512,"v":26.0},
      {"a":"1.07","m":"2.7e-6","s":"hi","r":0.2692,"v":21.8},
      {"a":"1.07","m":"2.7e-6","s":"hi","r":0.2818,"v":20.4},
      {"a":"1.07","m":"2.7e-6","s":"hi","r":0.3162,"v":19.7},
      {"a":"1.07","m":"2.7e-6","s":"hi","r":0.3548,"v":18.4},
      {"a":"1.07","m":"2.7e-6","s":"hi","r":0.3981,"v":14.4},
      {"a":"1.07","m":"2.7e-6","s":"hi","r":0.4467,"v":9.79},
      {"a":"1.07","m":"2.7e-6","s":"hi","r":0.4786,"v":7.16},
      {"a":"1.07","m":"2.7e-6","s":"hi","r":0.5129,"v":5.05},

      {"a":"1.07","m":"3.3e-7","s":"lo","r":2.38e-4,"v":20.4},
      {"a":"1.07","m":"3.3e-7","s":"lo","r":2.63e-4,"v":21.8},
      {"a":"1.07","m":"3.3e-7","s":"lo","r":2.97e-4,"v":24.3},
      {"a":"1.07","m":"3.3e-7","s":"lo","r":3.36e-4,"v":26.0},
      {"a":"1.07","m":"3.3e-7","s":"lo","r":3.96e-4,"v":29.9},
      {"a":"1.07","m":"3.3e-7","s":"lo","r":4.48e-4,"v":32.1},
      {"a":"1.07","m":"3.3e-7","s":"lo","r":5.06e-4,"v":34.4},
      {"a":"1.07","m":"3.3e-7","s":"lo","r":5.96e-4,"v":38.2},
      {"a":"1.07","m":"3.3e-7","s":"hi","r":5.96e-4,"v":38.2},
      {"a":"1.07","m":"3.3e-7","s":"hi","r":6.31e-4,"v":38.7},
      {"a":"1.07","m":"3.3e-7","s":"hi","r":7.079e-4,"v":39.5},
      {"a":"1.07","m":"3.3e-7","s":"hi","r":7.943e-4,"v":40.1},
      {"a":"1.07","m":"3.3e-7","s":"hi","r":8.913e-4,"v":40.6},
      {"a":"1.07","m":"3.3e-7","s":"hi","r":0.001,"v":41.0},
      {"a":"1.07","m":"3.3e-7","s":"hi","r":1.259e-3,"v":41.0},
      {"a":"1.07","m":"3.3e-7","s":"hi","r":1.585e-3,"v":40.4},
      {"a":"1.07","m":"3.3e-7","s":"hi","r":1.995e-3,"v":40.1},
      {"a":"1.07","m":"3.3e-7","s":"hi","r":2.512e-3,"v":40.1},
      {"a":"1.07","m":"3.3e-7","s":"hi","r":3.162e-3,"v":40.1},
      {"a":"1.07","m":"3.3e-7","s":"hi","r":3.981e-3,"v":40.1},
      {"a":"1.07","m":"3.3e-7","s":"hi","r":5.012e-3,"v":40.1},
      {"a":"1.07","m":"3.3e-7","s":"hi","r":6.31e-3,"v":40.1},
      {"a":"1.07","m":"3.3e-7","s":"hi","r":7.943e-3,"v":40.1},
      {"a":"1.07","m":"3.3e-7","s":"hi","r":0.01,"v":40.4},
      {"a":"1.07","m":"3.3e-7","s":"hi","r":0.01122,"v":40.6},
      {"a":"1.07","m":"3.3e-7","s":"hi","r":0.01259,"v":41.2},
      {"a":"1.07","m":"3.3e-7","s":"hi","r":0.01413,"v":42.1},
      {"a":"1.07","m":"3.3e-7","s":"hi","r":0.01585,"v":43.6},
      {"a":"1.07","m":"3.3e-7","s":"hi","r":0.01778,"v":45.2},
      {"a":"1.07","m":"3.3e-7","s":"hi","r":0.01995,"v":45.8},
      {"a":"1.07","m":"3.3e-7","s":"hi","r":0.02239,"v":46.8},
      {"a":"1.07","m":"3.3e-7","s":"hi","r":0.02512,"v":47.8},
      {"a":"1.07","m":"3.3e-7","s":"hi","r":0.02818,"v":48.4},
      {"a":"1.07","m":"3.3e-7","s":"hi","r":0.03162,"v":49.1},
      {"a":"1.07","m":"3.3e-7","s":"hi","r":0.03548,"v":49.8},
      {"a":"1.07","m":"3.3e-7","s":"hi","r":0.03981,"v":50.1},
      {"a":"1.07","m":"3.3e-7","s":"hi","r":0.04467,"v":50.5},
      {"a":"1.07","m":"3.3e-7","s":"hi","r":0.05012,"v":50.5},
      {"a":"1.07","m":"3.3e-7","s":"hi","r":0.05623,"v":50.1},
      {"a":"1.07","m":"3.3e-7","s":"hi","r":0.0631,"v":49.4},
      {"a":"1.07","m":"3.3e-7","s":"hi","r":0.07079,"v":48.1},
      {"a":"1.07","m":"3.3e-7","s":"hi","r":0.07943,"v":46.1},
      {"a":"1.07","m":"3.3e-7","s":"hi","r":0.08913,"v":42.4},
      {"a":"1.07","m":"3.3e-7","s":"hi","r":0.1,"v":38.7},
      {"a":"1.07","m":"3.3e-7","s":"hi","r":0.1122,"v":36.1},
      {"a":"1.07","m":"3.3e-7","s":"hi","r":0.1259,"v":34.4},
      {"a":"1.07","m":"3.3e-7","s":"hi","r":0.1413,"v":33.9},
      {"a":"1.07","m":"3.3e-7","s":"hi","r":0.1585,"v":33.4},
      {"a":"1.07","m":"3.3e-7","s":"hi","r":0.1778,"v":33.7},
      {"a":"1.07","m":"3.3e-7","s":"hi","r":0.1995,"v":34.4},
      {"a":"1.07","m":"3.3e-7","s":"hi","r":0.2239,"v":33.4},
      {"a":"1.07","m":"3.3e-7","s":"hi","r":0.2399,"v":28.9},
      {"a":"1.07","m":"3.3e-7","s":"hi","r":0.2512,"v":26.0},
      {"a":"1.07","m":"3.3e-7","s":"hi","r":0.2692,"v":21.8},
      {"a":"1.07","m":"3.3e-7","s":"hi","r":0.2818,"v":20.4},
      {"a":"1.07","m":"3.3e-7","s":"hi","r":0.3162,"v":19.7},
      {"a":"1.07","m":"3.3e-7","s":"hi","r":0.3548,"v":18.4},
      {"a":"1.07","m":"3.3e-7","s":"hi","r":0.3981,"v":14.4},
      {"a":"1.07","m":"3.3e-7","s":"hi","r":0.4467,"v":9.79},
      {"a":"1.07","m":"3.3e-7","s":"hi","r":0.4786,"v":7.16},
      {"a":"1.07","m":"3.3e-7","s":"hi","r":0.5129,"v":5.05},

      {"a":"1.52","m":"2.1e-5","s":"lo","r":3.42e-4,"v":11.3},
      {"a":"1.52","m":"2.1e-5","s":"lo","r":3.62e-4,"v":7.41},
      {"a":"1.52","m":"2.1e-5","s":"lo","r":3.87e-4,"v":9.14},
      {"a":"1.52","m":"2.1e-5","s":"lo","r":4.17e-4,"v":10.9},
      {"a":"1.52","m":"2.1e-5","s":"lo","r":4.52e-4,"v":10.5},
      {"a":"1.52","m":"2.1e-5","s":"lo","r":4.91e-4,"v":8.51},
      {"a":"1.52","m":"2.1e-5","s":"lo","r":5.33e-4,"v":6.44},
      {"a":"1.52","m":"2.1e-5","s":"lo","r":5.69e-4,"v":5.52},
      {"a":"1.52","m":"2.1e-5","s":"lo","r":6.02e-4,"v":5.81},
      {"a":"1.52","m":"2.1e-5","s":"lo","r":6.43e-4,"v":12.1},
      {"a":"1.52","m":"2.1e-5","s":"lo","r":6.98e-4,"v":21.8},
      {"a":"1.52","m":"2.1e-5","s":"lo","r":7.58e-4,"v":19.7},
      {"a":"1.52","m":"2.1e-5","s":"lo","r":8.23e-4,"v":18.4},
      {"a":"1.52","m":"2.1e-5","s":"lo","r":8.93e-4,"v":22.6},
      {"a":"1.52","m":"2.1e-5","s":"lo","r":9.69e-4,"v":29.9},
      {"a":"1.52","m":"2.1e-5","s":"lo","r":1.052e-3,"v":36.9},
      {"a":"1.52","m":"2.1e-5","s":"lo","r":1.14e-3,"v":38.2},
      {"a":"1.52","m":"2.1e-5","s":"lo","r":1.24e-3,"v":34.4},
      {"a":"1.52","m":"2.1e-5","s":"lo","r":1.35e-3,"v":38.2},
      {"a":"1.52","m":"2.1e-5","s":"lo","r":1.46e-3,"v":39.5},
      {"a":"1.52","m":"2.1e-5","s":"lo","r":1.585e-3,"v":42.4},
      {"a":"1.52","m":"2.1e-5","s":"lo","r":1.72e-3,"v":41.8},
      {"a":"1.52","m":"2.1e-5","s":"lo","r":1.87e-3,"v":45.5},
      {"a":"1.52","m":"2.1e-5","s":"lo","r":2.03e-3,"v":43.9},
      {"a":"1.52","m":"2.1e-5","s":"lo","r":2.49e-3,"v":48.1},
      {"a":"1.52","m":"2.1e-5","s":"lo","r":2.81e-3,"v":43.9},
      {"a":"1.52","m":"2.1e-5","s":"hi","r":2.81e-3,"v":43.9},
      {"a":"1.52","m":"2.1e-5","s":"hi","r":3.32e-3,"v":42.4},
      {"a":"1.52","m":"2.1e-5","s":"hi","r":3.91e-3,"v":43.0},
      {"a":"1.52","m":"2.1e-5","s":"hi","r":4.6e-3,"v":41.8},
      {"a":"1.52","m":"2.1e-5","s":"hi","r":5.42e-3,"v":41.0},
      {"a":"1.52","m":"2.1e-5","s":"hi","r":6.39e-3,"v":39.5},
      {"a":"1.52","m":"2.1e-5","s":"hi","r":7.53e-3,"v":38.2},
      {"a":"1.52","m":"2.1e-5","s":"hi","r":8.87e-3,"v":39.0},
      {"a":"1.52","m":"2.1e-5","s":"hi","r":0.01045,"v":39.5},
      {"a":"1.52","m":"2.1e-5","s":"hi","r":0.01335,"v":42.4},
      {"a":"1.52","m":"2.1e-5","s":"hi","r":0.0171,"v":43.9},
      {"a":"1.52","m":"2.1e-5","s":"hi","r":0.0237,"v":46.1},
      {"a":"1.52","m":"2.1e-5","s":"hi","r":0.033,"v":48.1},
      {"a":"1.52","m":"2.1e-5","s":"hi","r":0.0457,"v":47.8},
      {"a":"1.52","m":"2.1e-5","s":"hi","r":0.0635,"v":45.5},
      {"a":"1.52","m":"2.1e-5","s":"hi","r":0.0881,"v":43.0},
      {"a":"1.52","m":"2.1e-5","s":"hi","r":0.1224,"v":39.5},
      {"a":"1.52","m":"2.1e-5","s":"hi","r":0.1564,"v":34.8},
      {"a":"1.52","m":"2.1e-5","s":"hi","r":0.2,"v":32.1},
      {"a":"1.52","m":"2.1e-5","s":"hi","r":0.236,"v":26.0},
      {"a":"1.52","m":"2.1e-5","s":"hi","r":0.3015,"v":25.1},
      {"a":"1.52","m":"2.1e-5","s":"hi","r":0.386,"v":22.3},
      {"a":"1.52","m":"2.1e-5","s":"hi","r":0.4544,"v":19.0},
      {"a":"1.52","m":"2.1e-5","s":"hi","r":0.5355,"v":13.9},
      {"a":"1.52","m":"2.1e-5","s":"hi","r":0.605,"v":10.5},

      {"a":"1.52","m":"2.7e-6","s":"lo","r":3.48e-4,"v":11.3},
      {"a":"1.52","m":"2.7e-6","s":"lo","r":3.68e-4,"v":10.9},
      {"a":"1.52","m":"2.7e-6","s":"lo","r":3.93e-4,"v":18.4},
      {"a":"1.52","m":"2.7e-6","s":"lo","r":4.2e-4,"v":16.5},
      {"a":"1.52","m":"2.7e-6","s":"lo","r":4.45e-4,"v":15.4},
      {"a":"1.52","m":"2.7e-6","s":"lo","r":4.83e-4,"v":18.4},
      {"a":"1.52","m":"2.7e-6","s":"lo","r":5.46e-4,"v":26.0},
      {"a":"1.52","m":"2.7e-6","s":"lo","r":6.18e-4,"v":27.9},
      {"a":"1.52","m":"2.7e-6","s":"lo","r":6.98e-4,"v":26.9},
      {"a":"1.52","m":"2.7e-6","s":"lo","r":7.58e-4,"v":29.9},
      {"a":"1.52","m":"2.7e-6","s":"lo","r":8.57e-4,"v":32.1},
      {"a":"1.52","m":"2.7e-6","s":"lo","r":9.31e-4,"v":34.4},
      {"a":"1.52","m":"2.7e-6","s":"lo","r":1.052e-3,"v":38.2},
      {"a":"1.52","m":"2.7e-6","s":"lo","r":1.19e-3,"v":39.5},
      {"a":"1.52","m":"2.7e-6","s":"lo","r":1.29e-3,"v":40.1},
      {"a":"1.52","m":"2.7e-6","s":"hi","r":1.29e-3,"v":40.1},
      {"a":"1.52","m":"2.7e-6","s":"hi","r":1.46e-3,"v":39.5},
      {"a":"1.52","m":"2.7e-6","s":"hi","r":1.72e-3,"v":42.4},
      {"a":"1.52","m":"2.7e-6","s":"hi","r":1.87e-3,"v":43.0},
      {"a":"1.52","m":"2.7e-6","s":"hi","r":2.11e-3,"v":42.4},
      {"a":"1.52","m":"2.7e-6","s":"hi","r":2.39e-3,"v":41.0},
      {"a":"1.52","m":"2.7e-6","s":"hi","r":2.81e-3,"v":40.1},
      {"a":"1.52","m":"2.7e-6","s":"hi","r":3.32e-3,"v":38.2},
      {"a":"1.52","m":"2.7e-6","s":"hi","r":3.91e-3,"v":37.4},
      {"a":"1.52","m":"2.7e-6","s":"hi","r":4.6e-3,"v":38.2},
      {"a":"1.52","m":"2.7e-6","s":"hi","r":5.42e-3,"v":39.0},
      {"a":"1.52","m":"2.7e-6","s":"hi","r":6.39e-3,"v":40.1},
      {"a":"1.52","m":"2.7e-6","s":"hi","r":7.53e-3,"v":38.2},
      {"a":"1.52","m":"2.7e-6","s":"hi","r":8.87e-3,"v":39.0},
      {"a":"1.52","m":"2.7e-6","s":"hi","r":0.01045,"v":39.5},
      {"a":"1.52","m":"2.7e-6","s":"hi","r":0.0145,"v":41.0},
      {"a":"1.52","m":"2.7e-6","s":"hi","r":0.0201,"v":43.9},
      {"a":"1.52","m":"2.7e-6","s":"hi","r":0.028,"v":44.9},
      {"a":"1.52","m":"2.7e-6","s":"hi","r":0.0388,"v":44.9},
      {"a":"1.52","m":"2.7e-6","s":"hi","r":0.0539,"v":43.9},
      {"a":"1.52","m":"2.7e-6","s":"hi","r":0.0748,"v":42.4},
      {"a":"1.52","m":"2.7e-6","s":"hi","r":0.1038,"v":39.5},
      {"a":"1.52","m":"2.7e-6","s":"hi","r":0.144,"v":34.8},
      {"a":"1.52","m":"2.7e-6","s":"hi","r":0.184,"v":33.2},
      {"a":"1.52","m":"2.7e-6","s":"hi","r":0.236,"v":26.0},
      {"a":"1.52","m":"2.7e-6","s":"hi","r":0.3015,"v":24.3},
      {"a":"1.52","m":"2.7e-6","s":"hi","r":0.386,"v":22.6},
      {"a":"1.52","m":"2.7e-6","s":"hi","r":0.4735,"v":18.4},
      {"a":"1.52","m":"2.7e-6","s":"hi","r":0.5355,"v":13.9},
      {"a":"1.52","m":"2.7e-6","s":"hi","r":0.605,"v":10.5},

      {"a":"1.52","m":"3.3e-7","s":"lo","r":3.467e-4,"v":21.1},
      {"a":"1.52","m":"3.3e-7","s":"lo","r":3.548e-4,"v":21.8},
      {"a":"1.52","m":"3.3e-7","s":"lo","r":3.981e-4,"v":24.8},
      {"a":"1.52","m":"3.3e-7","s":"lo","r":4.467e-4,"v":26.0},
      {"a":"1.52","m":"3.3e-7","s":"lo","r":5.012e-4,"v":27.9},
      {"a":"1.52","m":"3.3e-7","s":"lo","r":5.623e-4,"v":31.6},
      {"a":"1.52","m":"3.3e-7","s":"lo","r":6.31e-4,"v":32.7},
      {"a":"1.52","m":"3.3e-7","s":"lo","r":7.079e-4,"v":34.8},
      {"a":"1.52","m":"3.3e-7","s":"lo","r":7.943e-4,"v":36.9},
      {"a":"1.52","m":"3.3e-7","s":"lo","r":8.913e-4,"v":37.9},
      {"a":"1.52","m":"3.3e-7","s":"lo","r":0.001,"v":39.0},
      {"a":"1.52","m":"3.3e-7","s":"hi","r":0.001,"v":39.0},
      {"a":"1.52","m":"3.3e-7","s":"hi","r":1.122e-3,"v":39.0},
      {"a":"1.52","m":"3.3e-7","s":"hi","r":1.259e-3,"v":39.3},
      {"a":"1.52","m":"3.3e-7","s":"hi","r":1.585e-3,"v":39.5},
      {"a":"1.52","m":"3.3e-7","s":"hi","r":1.995e-3,"v":39.0},
      {"a":"1.52","m":"3.3e-7","s":"hi","r":2.512e-3,"v":39.3},
      {"a":"1.52","m":"3.3e-7","s":"hi","r":3.162e-3,"v":39.3},
      {"a":"1.52","m":"3.3e-7","s":"hi","r":3.981e-3,"v":38.7},
      {"a":"1.52","m":"3.3e-7","s":"hi","r":5.012e-3,"v":38.2},
      {"a":"1.52","m":"3.3e-7","s":"hi","r":6.31e-3,"v":38.2},
      {"a":"1.52","m":"3.3e-7","s":"hi","r":7.943e-3,"v":38.5},
      {"a":"1.52","m":"3.3e-7","s":"hi","r":0.01,"v":39.0},
      {"a":"1.52","m":"3.3e-7","s":"hi","r":0.01122,"v":39.5},
      {"a":"1.52","m":"3.3e-7","s":"hi","r":0.01259,"v":40.1},
      {"a":"1.52","m":"3.3e-7","s":"hi","r":0.01413,"v":40.6},
      {"a":"1.52","m":"3.3e-7","s":"hi","r":0.01585,"v":41.8},
      {"a":"1.52","m":"3.3e-7","s":"hi","r":0.01778,"v":42.7},
      {"a":"1.52","m":"3.3e-7","s":"hi","r":0.01995,"v":43.3},
      {"a":"1.52","m":"3.3e-7","s":"hi","r":0.02239,"v":43.9},
      {"a":"1.52","m":"3.3e-7","s":"hi","r":0.02512,"v":44.2},
      {"a":"1.52","m":"3.3e-7","s":"hi","r":0.02818,"v":44.5},
      {"a":"1.52","m":"3.3e-7","s":"hi","r":0.03162,"v":44.9},
      {"a":"1.52","m":"3.3e-7","s":"hi","r":0.03548,"v":44.9},
      {"a":"1.52","m":"3.3e-7","s":"hi","r":0.03981,"v":44.9},
      {"a":"1.52","m":"3.3e-7","s":"hi","r":0.04467,"v":44.9},
      {"a":"1.52","m":"3.3e-7","s":"hi","r":0.05012,"v":44.5},
      {"a":"1.52","m":"3.3e-7","s":"hi","r":0.05623,"v":44.2},
      {"a":"1.52","m":"3.3e-7","s":"hi","r":0.0631,"v":43.9},
      {"a":"1.52","m":"3.3e-7","s":"hi","r":0.07079,"v":43.3},
      {"a":"1.52","m":"3.3e-7","s":"hi","r":0.07943,"v":42.7},
      {"a":"1.52","m":"3.3e-7","s":"hi","r":0.08913,"v":41.8},
      {"a":"1.52","m":"3.3e-7","s":"hi","r":0.1,"v":40.6},
      {"a":"1.52","m":"3.3e-7","s":"hi","r":0.1122,"v":39.3},
      {"a":"1.52","m":"3.3e-7","s":"hi","r":0.1259,"v":37.9},
      {"a":"1.52","m":"3.3e-7","s":"hi","r":0.1413,"v":36.9},
      {"a":"1.52","m":"3.3e-7","s":"hi","r":0.1585,"v":34.8},
      {"a":"1.52","m":"3.3e-7","s":"hi","r":0.1778,"v":33.2},
      {"a":"1.52","m":"3.3e-7","s":"hi","r":0.1995,"v":31.6},
      {"a":"1.52","m":"3.3e-7","s":"hi","r":0.2239,"v":27.9},
      {"a":"1.52","m":"3.3e-7","s":"hi","r":0.2512,"v":26.0},
      {"a":"1.52","m":"3.3e-7","s":"hi","r":0.2818,"v":25.1},
      {"a":"1.52","m":"3.3e-7","s":"hi","r":0.3162,"v":24.6},
      {"a":"1.52","m":"3.3e-7","s":"hi","r":0.3548,"v":23.4},
      {"a":"1.52","m":"3.3e-7","s":"hi","r":0.3981,"v":21.1},
      {"a":"1.52","m":"3.3e-7","s":"hi","r":0.4467,"v":18.4},
      {"a":"1.52","m":"3.3e-7","s":"hi","r":0.5012,"v":15.1},
      {"a":"1.52","m":"3.3e-7","s":"hi","r":0.5623,"v":12.5},
      {"a":"1.52","m":"3.3e-7","s":"hi","r":0.6026,"v":10.5}
    ]
  },
  "concat": [
    {
      "width": 377, "height": 135,
      "layer": [
        {"data": {"name": "curves"}, "transform": [{"filter": "datum.a == '0.58' && datum.s == 'hi'"}], "mark": {"type": "line", "clip": true, "strokeWidth": 1.2},
          "encoding": {
            "x": {"field": "r", "type": "quantitative", "scale": {"type": "log", "domain": [5.6e-5, 0.6], "nice": false},
              "axis": {"orient": "top", "labels": false, "title": null, "values": [0.00006,0.00007,0.00008,0.00009,0.0001,0.0002,0.0003,0.0004,0.0005,0.0006,0.0007,0.0008,0.0009,0.001,0.002,0.003,0.004,0.005,0.006,0.007,0.008,0.009,0.01,0.02,0.03,0.04,0.05,0.06,0.07,0.08,0.09,0.1,0.2,0.3,0.4,0.5,0.6],
                "tickSize": {"condition": {"test": "indexof([0.0001,0.001,0.01,0.1], datum.value) >= 0", "value": 4.5}, "value": 2.5}}},
            "y": {"field": "v", "type": "quantitative", "scale": {"type": "log", "domain": [5, 83], "nice": false},
              "axis": {"orient": "left", "title": "ρr³ᐟ²", "titlePadding": 8, "values": [5,6,7,8,9,10,20,30,40,50,60,70,80], "labelExpr": "datum.value == 10 ? '10¹' : ''",
                "tickSize": {"condition": {"test": "datum.value == 10", "value": 4.5}, "value": 2.5}}},
            "color": {"field": "m", "type": "nominal", "scale": {"domain": ["2.1e-5", "2.7e-6", "3.3e-7"], "range": ["#000000", "#ff0000", "#00bfbf"]},
              "legend": {"labelExpr": "datum.label == '2.1e-5' ? '𝑚ₚ = 2.1 × 10⁻⁵' : datum.label == '2.7e-6' ? '𝑚ₚ = 2.7 × 10⁻⁶' : '𝑚ₚ = 3.3 × 10⁻⁷'"}}
          }},
        {"data": {"name": "curves"}, "transform": [{"filter": "datum.a == '0.58' && datum.s == 'lo' && datum.m != '2.1e-5'"}], "mark": {"type": "line", "clip": true, "strokeWidth": 0.8, "opacity": 0.5},
          "encoding": {"x": {"field": "r", "type": "quantitative"}, "y": {"field": "v", "type": "quantitative"}, "color": {"field": "m", "type": "nominal"}}},
        {"data": {"name": "curves"}, "transform": [{"filter": "datum.a == '0.58' && datum.s == 'lo' && datum.m == '2.1e-5'"}], "mark": {"type": "line", "clip": true, "strokeWidth": 0.8, "opacity": 0.6, "strokeDash": [2, 1.5]},
          "encoding": {"x": {"field": "r", "type": "quantitative"}, "y": {"field": "v", "type": "quantitative"}, "color": {"field": "m", "type": "nominal"}}},
        {"data": {"name": "eps"}, "transform": [{"filter": "datum.a == '0.58'"}], "mark": {"type": "rule", "strokeWidth": 3},
          "encoding": {"x": {"field": "r", "type": "quantitative"}, "y": {"datum": 5, "type": "quantitative"}, "y2": {"datum": 5.6}, "color": {"field": "m", "type": "nominal"}}},
        {"data": {"values": [{"t": "𝑎 = 0.58"}]}, "mark": {"type": "text", "align": "left", "baseline": "alphabetic", "font": "Liberation Serif", "fontSize": 20, "color": "black"},
          "encoding": {"x": {"datum": 6.8e-5, "type": "quantitative"}, "y": {"datum": 55, "type": "quantitative"}, "text": {"field": "t"}}}
      ]
    },
    {
      "width": 377, "height": 135,
      "layer": [
        {"data": {"name": "curves"}, "transform": [{"filter": "datum.a == '0.79' && datum.s == 'hi'"}], "mark": {"type": "line", "clip": true, "strokeWidth": 1.2},
          "encoding": {
            "x": {"field": "r", "type": "quantitative", "scale": {"type": "log", "domain": [5.6e-5, 0.6], "nice": false},
              "axis": {"orient": "top", "labels": false, "title": null, "values": [0.00006,0.00007,0.00008,0.00009,0.0001,0.0002,0.0003,0.0004,0.0005,0.0006,0.0007,0.0008,0.0009,0.001,0.002,0.003,0.004,0.005,0.006,0.007,0.008,0.009,0.01,0.02,0.03,0.04,0.05,0.06,0.07,0.08,0.09,0.1,0.2,0.3,0.4,0.5,0.6],
                "tickSize": {"condition": {"test": "indexof([0.0001,0.001,0.01,0.1], datum.value) >= 0", "value": 4.5}, "value": 2.5}}},
            "y": {"field": "v", "type": "quantitative", "scale": {"type": "log", "domain": [5, 83], "nice": false},
              "axis": {"orient": "right", "labels": false, "title": null, "values": [5,6,7,8,9,10,20,30,40,50,60,70,80],
                "tickSize": {"condition": {"test": "datum.value == 10", "value": 4.5}, "value": 2.5}}},
            "color": {"field": "m", "type": "nominal", "scale": {"domain": ["2.1e-5", "2.7e-6", "3.3e-7"], "range": ["#000000", "#ff0000", "#00bfbf"]},
              "legend": {"labelExpr": "datum.label == '2.1e-5' ? '𝑚ₚ = 2.1 × 10⁻⁵' : datum.label == '2.7e-6' ? '𝑚ₚ = 2.7 × 10⁻⁶' : '𝑚ₚ = 3.3 × 10⁻⁷'"}}
          }},
        {"data": {"name": "curves"}, "transform": [{"filter": "datum.a == '0.79' && datum.s == 'lo' && datum.m != '2.1e-5'"}], "mark": {"type": "line", "clip": true, "strokeWidth": 0.8, "opacity": 0.5},
          "encoding": {"x": {"field": "r", "type": "quantitative"}, "y": {"field": "v", "type": "quantitative"}, "color": {"field": "m", "type": "nominal"}}},
        {"data": {"name": "curves"}, "transform": [{"filter": "datum.a == '0.79' && datum.s == 'lo' && datum.m == '2.1e-5'"}], "mark": {"type": "line", "clip": true, "strokeWidth": 0.8, "opacity": 0.6, "strokeDash": [2, 1.5]},
          "encoding": {"x": {"field": "r", "type": "quantitative"}, "y": {"field": "v", "type": "quantitative"}, "color": {"field": "m", "type": "nominal"}}},
        {"data": {"name": "eps"}, "transform": [{"filter": "datum.a == '0.79'"}], "mark": {"type": "rule", "strokeWidth": 3},
          "encoding": {"x": {"field": "r", "type": "quantitative"}, "y": {"datum": 5, "type": "quantitative"}, "y2": {"datum": 5.6}, "color": {"field": "m", "type": "nominal"}}},
        {"data": {"values": [{"t": "𝑎 = 0.79"}]}, "mark": {"type": "text", "align": "left", "baseline": "alphabetic", "font": "Liberation Serif", "fontSize": 20, "color": "black"},
          "encoding": {"x": {"datum": 6.8e-5, "type": "quantitative"}, "y": {"datum": 55, "type": "quantitative"}, "text": {"field": "t"}}}
      ]
    },
    {
      "width": 377, "height": 134,
      "layer": [
        {"data": {"name": "curves"}, "transform": [{"filter": "datum.a == '1.07' && datum.s == 'hi'"}], "mark": {"type": "line", "clip": true, "strokeWidth": 1.2},
          "encoding": {
            "x": {"field": "r", "type": "quantitative", "scale": {"type": "log", "domain": [5.6e-5, 0.6], "nice": false},
              "axis": {"orient": "bottom", "title": "r", "titlePadding": 8, "values": [0.00006,0.00007,0.00008,0.00009,0.0001,0.0002,0.0003,0.0004,0.0005,0.0006,0.0007,0.0008,0.0009,0.001,0.002,0.003,0.004,0.005,0.006,0.007,0.008,0.009,0.01,0.02,0.03,0.04,0.05,0.06,0.07,0.08,0.09,0.1,0.2,0.3,0.4,0.5,0.6],
                "labelExpr": "datum.value == 0.0001 ? '10⁻⁴' : datum.value == 0.001 ? '10⁻³' : datum.value == 0.01 ? '10⁻²' : datum.value == 0.1 ? '10⁻¹' : ''",
                "tickSize": {"condition": {"test": "indexof([0.0001,0.001,0.01,0.1], datum.value) >= 0", "value": 4.5}, "value": 2.5}}},
            "y": {"field": "v", "type": "quantitative", "scale": {"type": "log", "domain": [5, 83], "nice": false},
              "axis": {"orient": "left", "title": "ρr³ᐟ²", "titlePadding": 8, "values": [5,6,7,8,9,10,20,30,40,50,60,70,80], "labelExpr": "datum.value == 10 ? '10¹' : ''",
                "tickSize": {"condition": {"test": "datum.value == 10", "value": 4.5}, "value": 2.5}}},
            "color": {"field": "m", "type": "nominal", "scale": {"domain": ["2.1e-5", "2.7e-6", "3.3e-7"], "range": ["#000000", "#ff0000", "#00bfbf"]},
              "legend": {"labelExpr": "datum.label == '2.1e-5' ? '𝑚ₚ = 2.1 × 10⁻⁵' : datum.label == '2.7e-6' ? '𝑚ₚ = 2.7 × 10⁻⁶' : '𝑚ₚ = 3.3 × 10⁻⁷'"}}
          }},
        {"data": {"name": "curves"}, "transform": [{"filter": "datum.a == '1.07' && datum.s == 'lo' && datum.m != '2.1e-5'"}], "mark": {"type": "line", "clip": true, "strokeWidth": 0.8, "opacity": 0.5},
          "encoding": {"x": {"field": "r", "type": "quantitative"}, "y": {"field": "v", "type": "quantitative"}, "color": {"field": "m", "type": "nominal"}}},
        {"data": {"name": "curves"}, "transform": [{"filter": "datum.a == '1.07' && datum.s == 'lo' && datum.m == '2.1e-5'"}], "mark": {"type": "line", "clip": true, "strokeWidth": 0.8, "opacity": 0.6, "strokeDash": [2, 1.5]},
          "encoding": {"x": {"field": "r", "type": "quantitative"}, "y": {"field": "v", "type": "quantitative"}, "color": {"field": "m", "type": "nominal"}}},
        {"data": {"name": "eps"}, "transform": [{"filter": "datum.a == '1.07'"}], "mark": {"type": "rule", "strokeWidth": 3},
          "encoding": {"x": {"field": "r", "type": "quantitative"}, "y": {"datum": 5, "type": "quantitative"}, "y2": {"datum": 5.6}, "color": {"field": "m", "type": "nominal"}}},
        {"data": {"values": [{"t": "𝑎 = 1.07"}]}, "mark": {"type": "text", "align": "left", "baseline": "alphabetic", "font": "Liberation Serif", "fontSize": 20, "color": "black"},
          "encoding": {"x": {"datum": 6.8e-5, "type": "quantitative"}, "y": {"datum": 55, "type": "quantitative"}, "text": {"field": "t"}}}
      ]
    },
    {
      "width": 377, "height": 134,
      "layer": [
        {"data": {"name": "curves"}, "transform": [{"filter": "datum.a == '1.52' && datum.s == 'hi'"}], "mark": {"type": "line", "clip": true, "strokeWidth": 1.2},
          "encoding": {
            "x": {"field": "r", "type": "quantitative", "scale": {"type": "log", "domain": [5.6e-5, 0.6], "nice": false},
              "axis": {"orient": "bottom", "title": "r", "titlePadding": 8, "values": [0.00006,0.00007,0.00008,0.00009,0.0001,0.0002,0.0003,0.0004,0.0005,0.0006,0.0007,0.0008,0.0009,0.001,0.002,0.003,0.004,0.005,0.006,0.007,0.008,0.009,0.01,0.02,0.03,0.04,0.05,0.06,0.07,0.08,0.09,0.1,0.2,0.3,0.4,0.5,0.6],
                "labelExpr": "datum.value == 0.0001 ? '10⁻⁴' : datum.value == 0.001 ? '10⁻³' : datum.value == 0.01 ? '10⁻²' : datum.value == 0.1 ? '10⁻¹' : ''",
                "tickSize": {"condition": {"test": "indexof([0.0001,0.001,0.01,0.1], datum.value) >= 0", "value": 4.5}, "value": 2.5}}},
            "y": {"field": "v", "type": "quantitative", "scale": {"type": "log", "domain": [5, 83], "nice": false},
              "axis": {"orient": "right", "labels": false, "title": null, "values": [5,6,7,8,9,10,20,30,40,50,60,70,80],
                "tickSize": {"condition": {"test": "datum.value == 10", "value": 4.5}, "value": 2.5}}},
            "color": {"field": "m", "type": "nominal", "scale": {"domain": ["2.1e-5", "2.7e-6", "3.3e-7"], "range": ["#000000", "#ff0000", "#00bfbf"]},
              "legend": {"labelExpr": "datum.label == '2.1e-5' ? '𝑚ₚ = 2.1 × 10⁻⁵' : datum.label == '2.7e-6' ? '𝑚ₚ = 2.7 × 10⁻⁶' : '𝑚ₚ = 3.3 × 10⁻⁷'"}}
          }},
        {"data": {"name": "curves"}, "transform": [{"filter": "datum.a == '1.52' && datum.s == 'lo' && datum.m != '2.1e-5'"}], "mark": {"type": "line", "clip": true, "strokeWidth": 0.8, "opacity": 0.5},
          "encoding": {"x": {"field": "r", "type": "quantitative"}, "y": {"field": "v", "type": "quantitative"}, "color": {"field": "m", "type": "nominal"}}},
        {"data": {"name": "curves"}, "transform": [{"filter": "datum.a == '1.52' && datum.s == 'lo' && datum.m == '2.1e-5'"}], "mark": {"type": "line", "clip": true, "strokeWidth": 0.8, "opacity": 0.6, "strokeDash": [2, 1.5]},
          "encoding": {"x": {"field": "r", "type": "quantitative"}, "y": {"field": "v", "type": "quantitative"}, "color": {"field": "m", "type": "nominal"}}},
        {"data": {"name": "eps"}, "transform": [{"filter": "datum.a == '1.52'"}], "mark": {"type": "rule", "strokeWidth": 3},
          "encoding": {"x": {"field": "r", "type": "quantitative"}, "y": {"datum": 5, "type": "quantitative"}, "y2": {"datum": 5.6}, "color": {"field": "m", "type": "nominal"}}},
        {"data": {"values": [{"t": "𝑎 = 1.52"}]}, "mark": {"type": "text", "align": "left", "baseline": "alphabetic", "font": "Liberation Serif", "fontSize": 20, "color": "black"},
          "encoding": {"x": {"datum": 6.8e-5, "type": "quantitative"}, "y": {"datum": 55, "type": "quantitative"}, "text": {"field": "t"}}}
      ]
    }
  ]
}
